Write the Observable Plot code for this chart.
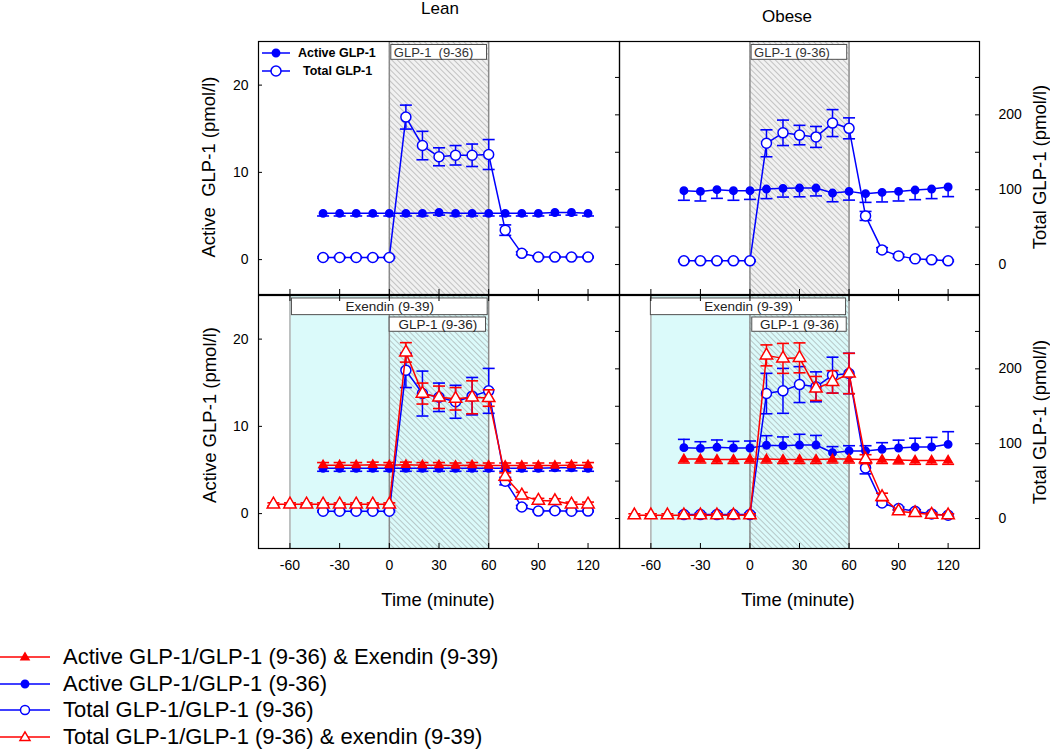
<!DOCTYPE html>
<html><head><meta charset="utf-8">
<script src="https://cdn.jsdelivr.net/npm/d3@7"></script>
<script src="https://cdn.jsdelivr.net/npm/@observablehq/plot@0.6"></script>
<style>
body{margin:0;background:#fff;}
#root{position:relative;width:1050px;height:749px;overflow:hidden;font-family:"Liberation Sans",Arial,Helvetica,sans-serif;color:#000;background:#fff;}
.abs{position:absolute;white-space:pre;line-height:1;}
</style></head><body>
<svg width="0" height="0" style="position:absolute"><defs>
<pattern id="hatch" patternUnits="userSpaceOnUse" width="4" height="4" patternTransform="rotate(-45)">
<line x1="0" y1="-1" x2="0" y2="5" stroke="#8a8a8a" stroke-width="0.9"/></pattern>
</defs></svg>
<div id="root"></div>
<script>
// ---------- data ----------
const time = [-40,-30,-20,-10,0,10,20,30,40,50,60,70,80,90,100,110,120];
const timeEx = [-70,-60,-50,-40,-30,-20,-10,0,10,20,30,40,50,60,70,80,90,100,110,120];

// Lean, GLP-1 (9-36) only (top left)
const leanActive    = [5.3,5.3,5.3,5.3,5.3,5.3,5.3,5.4,5.3,5.3,5.3,5.3,5.3,5.3,5.4,5.4,5.3];
const leanActiveErr = [0.3,0.3,0.3,0.3,0.3,0.3,0.3,0.3,0.3,0.3,0.3,0.3,0.3,0.3,0.3,0.3,0.3];
const leanTotal     = [9.5,9.5,9.5,9.5,9.5,197,159,144,146,146,147,46,15,10,10,10,10];
const leanTotalErr  = [1,1,1,1,1,16,19,12,13,15,20,7,2,1,1,1,1];

// Obese, GLP-1 (9-36) only (top right)
const obeseActive    = [7.9,7.82,8.02,7.9,7.9,8.09,8.17,8.2,8.2,7.63,7.82,7.56,7.71,7.82,7.97,8.09,8.32];
const obeseActiveErr = [1.1,1.1,1.0,1.1,1.0,1.1,1.0,1.0,0.9,1.0,1.0,1.0,1.1,1.1,1.1,1.1,1.1];
const obeseTotal     = [5,5,5,5,5,162,176,173,170.5,189,182,65,19.6,11.6,7.6,6.3,5];
const obeseTotalErr  = [1,1,1,1,1,18,17,13,14,18,14,6,3,2,1,1,1];

// Lean, with exendin (bottom left)
const leanExActiveBlue    = [5.2,5.2,5.2,5.2,5.2,5.2,5.2,5.2,5.2,5.2,5.2,5.2,5.2,5.2,5.25,5.25,5.2];
const leanExActiveBlueErr = [0.35,0.35,0.35,0.35,0.35,0.35,0.35,0.35,0.35,0.35,0.35,0.35,0.35,0.35,0.35,0.35,0.35];
const leanExActiveRed     = [5.55,5.55,5.55,5.6,5.55,5.6,5.55,5.55,5.5,5.55,5.5,5.5,5.5,5.5,5.5,5.55,5.55];
const leanExActiveRedErr  = [0.3,0.3,0.3,0.3,0.3,0.3,0.3,0.3,0.3,0.3,0.3,0.3,0.3,0.3,0.3,0.3,0.3];
const leanExTotalBlue     = [9.8,9.8,9.8,9.8,9.8,198,167,162,156,163.5,170.6,50,15.5,10,10.5,9.8,10];
const leanExTotalBlueErr  = [1,1,1,1,1,23,30,19,22,25,30,5,2,1,1,1,1];
const leanExTotalRed      = [19,19,19,19,19,19,19,19,222,167,162,160,162,161,56,31,24,23.5,19,19];
const leanExTotalRedErr   = [2,2,2,2,2,2,2,2,13,14,15,15,22,11,5,4,3,3,3,3];

// Obese, with exendin (bottom right)
const obeseExActiveBlue    = [7.56,7.48,7.6,7.52,7.52,7.83,7.79,7.86,7.86,6.98,7.18,7.18,7.37,7.52,7.64,7.64,7.94];
const obeseExActiveBlueErr = [0.95,0.76,0.84,0.76,0.8,1.1,1.0,1.23,1.1,0.7,0.6,0.6,0.76,0.9,1.0,1.1,1.45];
const obeseExActiveRed     = [6.25,6.25,6.2,6.2,6.25,6.25,6.2,6.2,6.2,6.25,6.25,6.2,6.2,6.15,6.1,6.1,6.1];
const obeseExActiveRedErr  = [0.45,0.45,0.45,0.45,0.45,0.45,0.45,0.45,0.45,0.45,0.45,0.45,0.45,0.45,0.45,0.45,0.45];
const obeseExTotalBlue     = [5.3,5.3,5.3,5.3,5.3,167,170.6,179,176,191.6,193.8,67.7,20.9,13.4,9.8,6.2,4.4];
const obeseExTotalBlueErr  = [2,2,2,2,2,27,30,24,20,24,27,8,3,2,2,2,2];
const obeseExTotalRed      = [4.4,4.4,4.4,4.4,4.4,4.4,4.4,4.4,218,214,214.7,173.8,182.6,193.8,79.3,28.9,9.8,7.5,5.3,4.4];
const obeseExTotalRedErr   = [2,2,2,2,2,2,2,2,14,20,20,16,15,27,6,5,2,2,2,2];

// infusion periods (minutes)
const glpInfusion = [{from: 0, to: 60}];
const exendinInfusion = [{from: -60, to: 60}];

// axes
const xTicks = [-60,-30,0,30,60,90,120];
const leftTicks = [0,10,20];
const rightMinorTicks = [0,50,100,150,200,250];
const rightLabelTicks = [0,100,200];

// ---------- drawing ----------
const FONT = '"Liberation Sans", Arial, Helvetica, sans-serif';
const BLUE = "#0000ff", RED = "#ff0000";
const xDomain = [-79, 139];
const yLeftDomain = [-4, 25];
const yRightDomain = [-40, 298];
const root = document.getElementById("root");

const capSymbol = {draw(ctx, size) { const r = Math.sqrt(size / Math.PI); ctx.moveTo(-r, 0); ctx.lineTo(r, 0); }};

function seriesMarks(times, vals, errs, color, symbol, filled, r, dir) {
  const data = times.map((t, i) => ({t, v: vals[i],
    lo: dir === "up" ? vals[i] : vals[i] - errs[i],
    hi: dir === "down" ? vals[i] : vals[i] + errs[i]}));
  const caps = data.flatMap(d => [
    d.lo !== d.v ? {t: d.t, y: d.lo} : null,
    d.hi !== d.v ? {t: d.t, y: d.hi} : null].filter(Boolean));
  return [
    Plot.ruleX(data, {x: "t", y1: "lo", y2: "hi", stroke: color, strokeWidth: 1.5}),
    Plot.dot(caps, {x: "t", y: "y", symbol: capSymbol, r: 6, stroke: color, strokeWidth: 1.6, fill: "none"}),
    Plot.line(data, {x: "t", y: "v", stroke: color, strokeWidth: 1.5}),
    Plot.dot(data, {x: "t", y: "v", symbol, r, fill: filled ? color : "white", stroke: color, strokeWidth: 1.5})
  ];
}

function panel(cfg) {
  const mL = 60, mR = 60, mT = 10, mB = 45;
  const W = cfg.w + mL + mR, H = cfg.h + mT + mB;
  const style = {background: "transparent", fontFamily: FONT, fontSize: "14px", color: "black", overflow: "visible"};
  const marks1 = [];
  if (cfg.exendin) {
    marks1.push(Plot.rect(exendinInfusion, {x1: "from", x2: "to", fill: "#dbfafa"}));
  } else {
    marks1.push(Plot.rect(glpInfusion, {x1: "from", x2: "to", fill: "#f1f1f1"}));
  }
  marks1.push(Plot.rect(glpInfusion, {x1: "from", x2: "to", fill: "url(#hatch)"}));
  if (cfg.exendin) marks1.push(Plot.ruleX(exendinInfusion, {x: "from", stroke: "#b0b0b0", strokeWidth: 1.5}));
  marks1.push(Plot.ruleX(glpInfusion, {x: "from", stroke: "#8a8a8a", strokeWidth: 1.5}));
  marks1.push(Plot.ruleX(glpInfusion, {x: "to", stroke: "#8a8a8a", strokeWidth: 1.5}));
  for (const s of cfg.active) marks1.push(...seriesMarks(...s));
  // annotation boxes
  marks1.push(Plot.rect(cfg.boxes, {x1: "x1", x2: "x2", y1: "y1", y2: "y2", fill: "white", stroke: "#505050", strokeWidth: 1}));
  marks1.push(Plot.text(cfg.boxes.filter(b => b.align === "start"), {x: d => d.x1 + 1.5, y: d => (d.y1 + d.y2) / 2, text: "label", textAnchor: "start", fontSize: 13, fill: "#333"}));
  marks1.push(Plot.text(cfg.boxes.filter(b => b.align !== "start"), {x: d => (d.x1 + d.x2) / 2, y: d => (d.y1 + d.y2) / 2, text: "label", textAnchor: "middle", fontSize: 13.5, fill: "#222"}));
  // axes
  if (cfg.xLabels) {
    marks1.push(Plot.axisX({ticks: xTicks, tickSize: -5, tickPadding: 17, tickFormat: d => String(d), label: null, fontSize: 14}));
    marks1.push(Plot.axisX({anchor: "top", ticks: xTicks, tickSize: -5, tickFormat: () => "", label: null}));
  } else {
    marks1.push(Plot.axisX({ticks: xTicks, tickSize: -5, tickFormat: () => "", label: null}));
  }
  if (cfg.leftLabels) {
    marks1.push(Plot.axisY({anchor: "left", ticks: leftTicks, tickSize: -4, tickPadding: 14, label: null, fontSize: 14}));
  }
  marks1.push(Plot.frame({stroke: "black", strokeWidth: 1.2}));

  const p1 = Plot.plot({width: W, height: H, marginLeft: mL, marginRight: mR, marginTop: mT, marginBottom: mB, style,
    x: {domain: xDomain}, y: {domain: yLeftDomain, axis: cfg.leftLabels ? undefined : null}, marks: marks1});

  const marks2 = [];
  for (const s of cfg.total) marks2.push(...seriesMarks(...s));
  marks2.push(Plot.axisY({anchor: "right", ticks: rightMinorTicks, tickSize: -5, tickFormat: () => "", label: null}));
  if (cfg.rightLabels) marks2.push(Plot.axisY({anchor: "right", ticks: rightLabelTicks, tickSize: 0, tickPadding: 19, textAnchor: "start", label: null, fontSize: 14}));
  const p2 = Plot.plot({width: W, height: H, marginLeft: mL, marginRight: mR, marginTop: mT, marginBottom: mB, style,
    x: {domain: xDomain, axis: null}, y: {domain: yRightDomain}, marks: marks2});

  for (const p of [p1, p2]) {
    p.style.position = "absolute";
    p.style.left = (cfg.x - mL) + "px";
    p.style.top = (cfg.y - mT) + "px";
    root.appendChild(p);
  }
}

function label(text, x, y, size, opts = {}) {
  const d = document.createElement("div");
  d.className = "abs";
  d.textContent = text;
  d.style.left = x + "px";
  d.style.top = y + "px";
  d.style.fontSize = size + "px";
  if (opts.bold) d.style.fontWeight = "bold";
  const anchor = opts.anchor === "start" ? "translate(0,-50%)" : "translate(-50%,-50%)";
  d.style.transform = anchor + (opts.rotate ? ` rotate(${opts.rotate}deg)` : "");
  root.appendChild(d);
}

function swatch(x, y, w, color, kind, r) {
  const ns = "http://www.w3.org/2000/svg";
  const s = document.createElementNS(ns, "svg");
  s.setAttribute("width", w); s.setAttribute("height", 20);
  s.style.position = "absolute"; s.style.left = x + "px"; s.style.top = (y - 10) + "px"; s.style.overflow = "visible";
  const ln = document.createElementNS(ns, "line");
  ln.setAttribute("x1", 0); ln.setAttribute("x2", w); ln.setAttribute("y1", 10); ln.setAttribute("y2", 10);
  ln.setAttribute("stroke", color); ln.setAttribute("stroke-width", 1.5);
  s.appendChild(ln);
  const cx = w / 2;
  let m;
  if (kind.startsWith("circle")) {
    m = document.createElementNS(ns, "circle");
    m.setAttribute("cx", cx); m.setAttribute("cy", 10); m.setAttribute("r", r);
  } else {
    m = document.createElementNS(ns, "polygon");
    const h = r * 1.7;
    m.setAttribute("points", `${cx},${10 - h * 0.6} ${cx - r},${10 + h * 0.4} ${cx + r},${10 + h * 0.4}`);
  }
  m.setAttribute("stroke", color); m.setAttribute("stroke-width", 1.5);
  m.setAttribute("fill", kind.endsWith("Open") ? "white" : color);
  s.appendChild(m);
  root.appendChild(s);
}

// panels
panel({x: 258, y: 41, w: 361, h: 253, exendin: false, leftLabels: true, rightLabels: false, xLabels: false,
  active: [[time, leanActive, leanActiveErr, BLUE, "circle", true, 3.7, "down"]],
  total: [[time, leanTotal, leanTotalErr, BLUE, "circle", false, 5, "both"]],
  boxes: [{label: "GLP-1  (9-36)", x1: 1.2, x2: 59, y1: 22.9, y2: 24.6, align: "start"}]});

panel({x: 619, y: 41, w: 360, h: 253, exendin: false, leftLabels: false, rightLabels: true, xLabels: false,
  active: [[time, obeseActive, obeseActiveErr, BLUE, "circle", true, 3.7, "down"]],
  total: [[time, obeseTotal, obeseTotalErr, BLUE, "circle", false, 5, "both"]],
  boxes: [{label: "GLP-1 (9-36)", x1: 1, x2: 58.9, y1: 22.9, y2: 24.6, align: "start"}]});

panel({x: 258, y: 295, w: 361, h: 253, exendin: true, leftLabels: true, rightLabels: false, xLabels: true,
  active: [[time, leanExActiveBlue, leanExActiveBlueErr, BLUE, "circle", true, 3.7, "down"],
           [time, leanExActiveRed, leanExActiveRedErr, RED, "triangle", true, 3.1, "up"]],
  total: [[time, leanExTotalBlue, leanExTotalBlueErr, BLUE, "circle", false, 5, "both"],
          [timeEx, leanExTotalRed, leanExTotalRedErr, RED, "triangle", false, 4.6, "both"]],
  boxes: [{label: "Exendin (9-39)", x1: -58.8, x2: 59.4, y1: 22.75, y2: 24.66, align: "middle"},
          {label: "GLP-1 (9-36)", x1: 0.2, x2: 58.4, y1: 20.84, y2: 22.48, align: "middle"}]});

panel({x: 619, y: 295, w: 360, h: 253, exendin: true, leftLabels: false, rightLabels: true, xLabels: true,
  active: [[time, obeseExActiveBlue, obeseExActiveBlueErr, BLUE, "circle", true, 3.7, "up"],
           [time, obeseExActiveRed, obeseExActiveRedErr, RED, "triangle", true, 3.1, "down"]],
  total: [[time, obeseExTotalBlue, obeseExTotalBlueErr, BLUE, "circle", false, 5, "both"],
          [timeEx, obeseExTotalRed, obeseExTotalRedErr, RED, "triangle", false, 4.6, "both"]],
  boxes: [{label: "Exendin (9-39)", x1: -60, x2: 58.2, y1: 22.75, y2: 24.66, align: "middle"},
          {label: "GLP-1 (9-36)", x1: 1.4, x2: 58.6, y1: 20.84, y2: 22.48, align: "middle"}]});

// titles and axis titles
label("Lean", 440, 8, 17);
label("Obese", 787, 16, 17);
label("Active  GLP-1 (pmol/l)", 209, 167, 18.5, {rotate: -90});
label("Active GLP-1 (pmol/l)", 210, 415, 18.5, {rotate: -90});
label("Total GLP-1 (pmol/l)", 1040, 167, 18.5, {rotate: -90});
label("Total GLP-1 (pmol/l)", 1040, 422, 18.5, {rotate: -90});
label("Time (minute)", 438, 600, 18.5);
label("Time (minute)", 798, 600, 18.5);

// in-panel legend (top left)
swatch(262, 53, 28, BLUE, "circleFilled", 3.7);
label("Active GLP-1", 298, 53, 12.5, {anchor: "start", bold: true});
swatch(262, 71, 28, BLUE, "circleOpen", 5);
label("Total GLP-1", 303, 71, 12.5, {anchor: "start", bold: true});

// bottom legend
const legendItems = [
  ["Active GLP-1/GLP-1 (9-36) & Exendin (9-39)", RED, "triangleFilled", 4],
  ["Active GLP-1/GLP-1 (9-36)", BLUE, "circleFilled", 3.7],
  ["Total GLP-1/GLP-1 (9-36)", BLUE, "circleOpen", 4.5],
  ["Total GLP-1/GLP-1 (9-36) & exendin (9-39)", RED, "triangleOpen", 5]
];
legendItems.forEach(([text, color, kind, r], i) => {
  const y = 657 + i * 26.5;
  swatch(0, y, 50, color, kind, r);
  label(text, 63, y, 22, {anchor: "start"});
});
</script>
</body></html>
